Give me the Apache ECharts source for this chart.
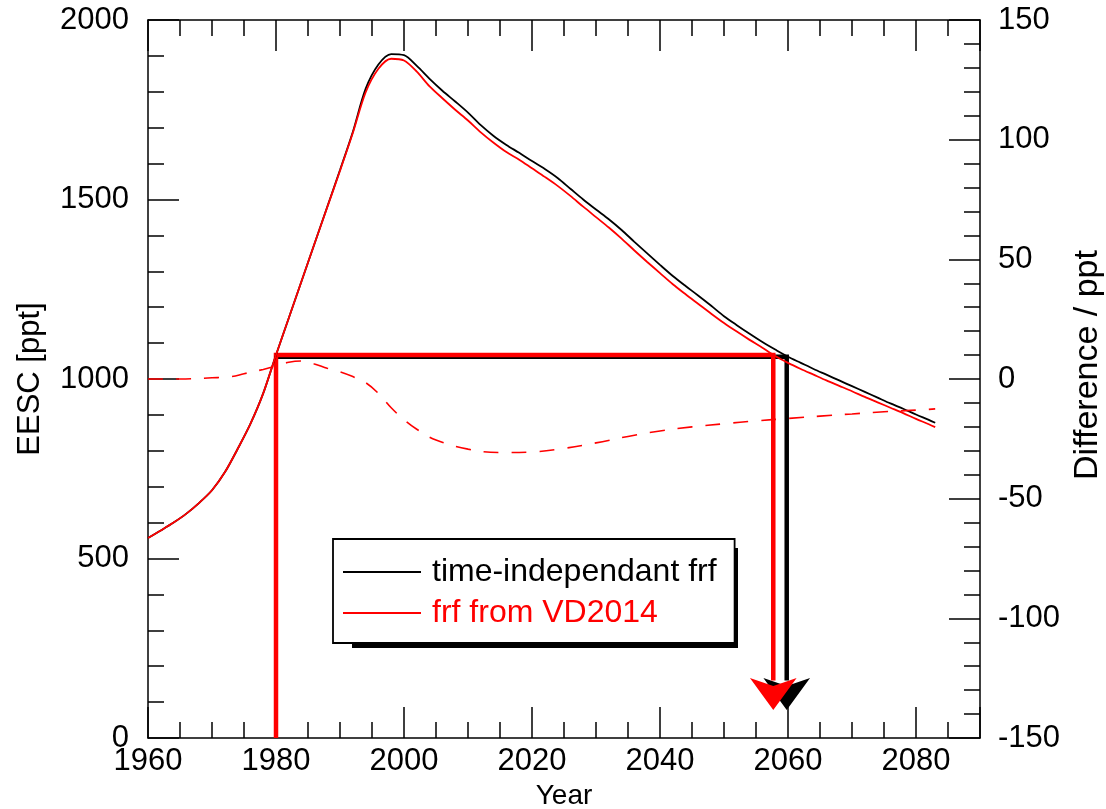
<!DOCTYPE html>
<html>
<head>
<meta charset="utf-8">
<script src="https://cdn.jsdelivr.net/npm/echarts@6/dist/echarts.min.js"></script>
<style>
html,body{margin:0;padding:0;background:#fff;}
#chart{width:1106px;height:809px;}
</style>
</head>
<body>
<div id="chart"></div>
<script>
// ---- data ----
var years = [1960,1962,1964,1966,1968,1970,1972,1974,1976,1978,1980,1982,1984,1986,1988,1990,1992,1994,1996,1998,2000,2002,2004,2006,2008,2010,2012,2014,2016,2018,2020,2022,2024,2026,2028,2030,2032,2034,2036,2038,2040,2042,2044,2046,2048,2050,2052,2054,2056,2058,2060,2062,2064,2066,2068,2070,2072,2074,2076,2078,2080,2082,2083];
var eescConst = [557,578,600,625,655,690,740,805,875,960,1067,1170,1273,1376,1479,1582,1688,1808,1876,1905,1902,1872,1836,1803,1773,1742,1707,1677,1652,1630,1607,1585,1560,1530,1500,1472,1445,1415,1382,1350,1318,1287,1259,1232,1204,1175,1150,1126,1103,1082,1062,1045,1028,1012,996,980,964,948,932,917,901,886,878];
var eescVD = [557,578,600,625,655,690,740,805,875,960,1067,1170,1273,1376,1478,1580,1685,1798,1864,1892,1887,1856,1815,1782,1750,1720,1687,1658,1632,1611,1587,1563,1538,1510,1480,1451,1422,1391,1358,1326,1295,1264,1236,1209,1182,1156,1132,1109,1087,1064,1045,1028,1012,996,981,966,950,935,920,905,889,874,866];
var diffYears = [1960,1965,1970,1973,1975,1978,1980,1982,1984,1986,1988,1990,1992,1994,1996,1998,2000,2002,2005,2010,2015,2020,2025,2030,2035,2040,2045,2050,2055,2060,2065,2070,2075,2080,2083];
var diffVals = [0,0,0.5,1,2.2,4,5.5,7,7.5,6.3,4.5,3,1,-1.5,-6,-12,-17,-21,-25.5,-29.3,-30.7,-30.5,-29,-26.7,-24,-21.7,-20,-18.7,-17.5,-16.5,-15.5,-14.6,-13.7,-13,-12.5];
// recovery markers (year, EESC ppt); arrow values are the arrow tips
var redMarker = [[1980,0],[1980,1067],[2057.7,1067],[2057.7,160]];
var redArrow = [[2057.7,78]];
var blackMarker = [[1980,1062],[2059.8,1062],[2059.8,160]];
var blackArrow = [[2059.8,78]];
var xTicks = {min:1960, max:2090, interval:20};
var yLeftTicks = {min:0, max:2000, interval:500};
var yRightTicks = {min:-150, max:150, interval:50};
var names = ['time-independant frf','frf from VD2014'];

function zip(xs, ys){ return xs.map(function(x,i){ return [x, ys[i]]; }); }

var FONT = "'Liberation Sans', Arial, Helvetica, sans-serif";
var axisCommon = {
  axisLine:{show:true, onZero:false, lineStyle:{color:'#000', width:1.5}},
  axisTick:{show:true, inside:true, length:31, lineStyle:{color:'#000', width:1.5}},
  splitLine:{show:false},
  minorSplitLine:{show:false}
};
function ax(extra){ return Object.assign({}, JSON.parse(JSON.stringify(axisCommon)), extra); }
function plain(v){ return String(v); }

var chart = echarts.init(document.getElementById('chart'), null, {renderer:'canvas'});
chart.setOption({
  animation:false,
  backgroundColor:'#fff',
  textStyle:{fontFamily:FONT},
  grid:{left:148, right:126, top:20, bottom:71, containLabel:false, outerBoundsMode:'none'},
  // drop shadow strip under the legend box
  graphic:[{type:'rect', left:352, top:548, z:1, silent:true,
    shape:{width:386, height:100}, style:{fill:'#000'}}],
  legend:{
    data:[{name:names[0], icon:'rect', textStyle:{color:'#000'}},{name:names[1], icon:'rect', textStyle:{color:'#ff0000'}}],
    orient:'vertical', left:333, top:539, z:10,
    padding:[15,18,12,10], itemGap:5, itemWidth:78, itemHeight:2,
    textStyle:{fontSize:32, lineHeight:36, fontFamily:FONT, padding:[0,0,0,6]},
    backgroundColor:'#fff', borderColor:'#000', borderWidth:1.8, borderRadius:0,
    selectedMode:false
  },
  xAxis:[
    ax({type:'value', position:'bottom', min:xTicks.min, max:xTicks.max, interval:xTicks.interval,
      minorTick:{show:true, splitNumber:4, length:16, lineStyle:{color:'#000', width:1.5}},
      axisLabel:{show:true, color:'#000', fontSize:31, margin:8, showMaxLabel:false, fontFamily:FONT, formatter:plain},
      name:'Year', nameLocation:'middle', nameGap:42,
      nameTextStyle:{color:'#000', fontSize:28, fontFamily:FONT}}),
    ax({type:'value', position:'top', min:xTicks.min, max:xTicks.max, interval:xTicks.interval,
      minorTick:{show:true, splitNumber:4, length:16, lineStyle:{color:'#000', width:1.5}},
      axisLabel:{show:false}})
  ],
  yAxis:[
    ax({type:'value', position:'left', min:yLeftTicks.min, max:yLeftTicks.max, interval:yLeftTicks.interval,
      minorTick:{show:true, splitNumber:5, length:16, lineStyle:{color:'#000', width:1.5}},
      axisLabel:{show:true, color:'#000', fontSize:31, margin:19, fontFamily:FONT, formatter:plain},
      name:'EESC [ppt]', nameLocation:'middle', nameGap:102, nameRotate:90,
      nameTextStyle:{color:'#000', fontSize:31, fontFamily:FONT}}),
    ax({type:'value', position:'right', min:yRightTicks.min, max:yRightTicks.max, interval:yRightTicks.interval,
      minorTick:{show:true, splitNumber:5, length:16, lineStyle:{color:'#000', width:1.5}},
      axisLabel:{show:true, color:'#000', fontSize:31, margin:18, fontFamily:FONT, formatter:plain},
      name:'Difference / ppt', nameLocation:'middle', nameGap:88, nameRotate:90,
      nameTextStyle:{color:'#000', fontSize:34, fontFamily:FONT, padding:[0,0,0,28]}})
  ],
  series:[
    {type:'line', name:'blackMarker', data:blackMarker, xAxisIndex:0, yAxisIndex:0, symbol:'none',
      lineStyle:{color:'#000', width:4.5, join:'miter'}, z:2, silent:true},
    {type:'scatter', name:'blackArrow', data:blackArrow, xAxisIndex:0, yAxisIndex:0, symbol:'arrow',
      symbolRotate:180, symbolSize:[35,32], itemStyle:{color:'#000', opacity:1}, z:3, silent:true},
    {type:'line', name:'redMarker', data:redMarker, xAxisIndex:0, yAxisIndex:0, symbol:'none',
      lineStyle:{color:'#ff0000', width:4.5, join:'miter'}, z:4, silent:true},
    {type:'scatter', name:'redArrow', data:redArrow, xAxisIndex:0, yAxisIndex:0, symbol:'arrow',
      symbolRotate:180, symbolSize:[35,32], itemStyle:{color:'#ff0000', opacity:1}, z:5, silent:true},
    {type:'line', name:names[0], data:zip(years, eescConst), xAxisIndex:0, yAxisIndex:0, symbol:'none',
      smooth:0.3, lineStyle:{color:'#000', width:1.8}, itemStyle:{color:'#000'}, z:6},
    {type:'line', name:names[1], data:zip(years, eescVD), xAxisIndex:0, yAxisIndex:0, symbol:'none',
      smooth:0.3, lineStyle:{color:'#ff0000', width:1.8}, itemStyle:{color:'#ff0000'}, z:7},
    {type:'line', name:'difference', data:zip(diffYears, diffVals), xAxisIndex:0, yAxisIndex:1, symbol:'none',
      smooth:0.4, lineStyle:{color:'#ff0000', width:1.6, type:[15,13]}, z:8}
  ]
});
</script>
</body>
</html>
